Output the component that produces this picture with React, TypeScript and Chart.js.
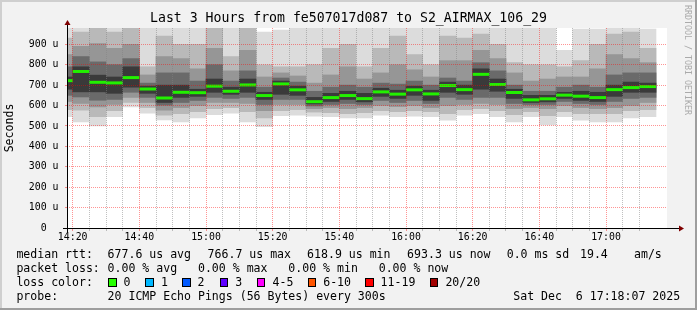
import React, { useEffect, useRef } from 'react';
import { Chart, registerables } from 'chart.js';

Chart.register(...registerables);

// ---- data (bin start times, 5-minute bins, values in microseconds) ----
const times = [
  '14:15', '14:20', '14:25', '14:30', '14:35', '14:40', '14:45', '14:50', '14:55',
  '15:00', '15:05', '15:10', '15:15', '15:20', '15:25', '15:30', '15:35', '15:40',
  '15:45', '15:50', '15:55', '16:00', '16:05', '16:10', '16:15', '16:20', '16:25',
  '16:30', '16:35', '16:40', '16:45', '16:50', '16:55', '17:00', '17:05', '17:10',
];

const medianRtt = [722, 767, 714, 711, 737, 681, 637, 665, 663, 695, 670, 701, 649, 706, 677, 619, 639, 649, 634, 667, 656, 677, 657, 698, 678, 753, 703, 664, 628, 633, 651, 646, 639, 678, 688, 693];

const pingMin = [545, 520, 500, 545, 593, 563, 530, 520, 540, 555, 563, 520, 497, 550, 553, 548, 545, 540, 540, 553, 545, 548, 545, 528, 553, 560, 545, 520, 545, 505, 545, 528, 520, 520, 540, 545];
const band2Lo = [580, 577, 545, 575, 615, 590, 553, 560, 570, 585, 590, 570, 540, 575, 580, 568, 565, 560, 565, 575, 570, 575, 570, 560, 580, 585, 575, 555, 570, 550, 570, 560, 560, 560, 575, 580];
const band3Lo = [620, 611, 593, 605, 640, 615, 577, 590, 600, 615, 615, 610, 575, 605, 605, 585, 590, 585, 590, 600, 595, 600, 590, 600, 605, 610, 605, 585, 590, 585, 600, 590, 585, 590, 600, 615];
const band4Lo = [650, 642, 626, 630, 665, 640, 602, 615, 625, 640, 635, 640, 605, 630, 630, 598, 605, 610, 605, 625, 615, 625, 610, 640, 630, 640, 640, 610, 605, 605, 620, 610, 605, 620, 635, 640];
const band5Lo = [680, 667, 667, 660, 690, 660, 615, 640, 645, 665, 655, 665, 630, 655, 650, 608, 620, 630, 618, 645, 635, 650, 625, 665, 655, 680, 670, 635, 615, 618, 635, 625, 620, 645, 665, 665];
const band5Hi = [740, 790, 749, 740, 790, 695, 700, 700, 680, 730, 690, 730, 665, 720, 695, 640, 660, 670, 660, 685, 675, 695, 675, 715, 700, 780, 730, 680, 650, 650, 665, 670, 665, 700, 715, 710];
const band4Hi = [790, 840, 814, 800, 830, 710, 760, 760, 720, 800, 720, 770, 690, 735, 715, 670, 690, 700, 690, 710, 705, 720, 700, 735, 720, 810, 770, 700, 670, 670, 690, 700, 690, 750, 760, 760];
const band3Hi = [850, 890, 904, 880, 900, 750, 840, 830, 780, 880, 770, 870, 740, 760, 745, 710, 750, 790, 730, 760, 800, 775, 740, 820, 820, 870, 830, 760, 720, 730, 740, 740, 780, 850, 830, 810];
const band2Hi = [930, 960, 980, 960, 980, 790, 940, 900, 900, 980, 840, 980, 800, 790, 790, 800, 880, 900, 790, 880, 940, 850, 800, 940, 930, 950, 900, 810, 800, 800, 790, 820, 900, 950, 960, 880];
const pingMax = [980, 980, 980, 980, 980, 980, 980, 980, 980, 980, 980, 980, 960, 970, 980, 980, 980, 980, 980, 980, 980, 980, 980, 980, 980, 980, 980, 980, 980, 980, 870, 975, 975, 980, 980, 975];

const yTickLabels = ['0', '100 u', '200 u', '300 u', '400 u', '500 u', '600 u', '700 u', '800 u', '900 u'];

const titleText = 'Last 3 Hours from fe507017d087 to S2_AIRMAX_106_29';
const rttStats = ['677.6 us avg', '766.7 us max', '618.9 us min', '693.3 us now', '0.0 ms sd', '19.4', 'am/s'];
const lossStats = '0.00 % avg   0.00 % max   0.00 % min   0.00 % now';
const lossLabels = ['0', '1', '2', '3', '4-5', '6-10', '11-19', '20/20'];
const lossColors = ['#26ff00', '#00b8ff', '#0059ff', '#5e00ff', '#ff00ff', '#ff5500', '#ff0000', '#a10000'];
const probeText = '20 ICMP Echo Pings (56 Bytes) every 300s';
const dateText = 'Sat Dec  6 17:18:07 2025';

// ---- helpers ----
const ORIGIN = 14 * 60 + 20;
const toMin = (t: string) => {
  const [h, m] = t.split(':').map(Number);
  return h * 60 + m - ORIGIN;
};
const binCenter = (t: string) => toMin(t) + 2.5;

const MONO = "'DejaVu Sans Mono', monospace";
const MAJOR = 'rgba(255,0,0,0.42)';
const MINOR = 'rgba(130,130,130,0.5)';

const bands = [
  { lo: pingMin, hi: pingMax, color: '#dcdcdc' },
  { lo: band2Lo, hi: band2Hi, color: '#b9b9b9' },
  { lo: band3Lo, hi: band3Hi, color: '#969696' },
  { lo: band4Lo, hi: band4Hi, color: '#6a6a6a' },
  { lo: band5Lo, hi: band5Hi, color: '#3a3a3a' },
];

const framePlugin = {
  id: 'rrdFrame',
  beforeDraw(chart: any) {
    const { ctx, width, height, chartArea: a } = chart;
    ctx.save();
    ctx.fillStyle = '#f2f2f2';
    ctx.fillRect(0, 0, width, height);
    ctx.fillStyle = '#cfcfcf';
    ctx.fillRect(0, 0, width, 2);
    ctx.fillRect(0, 0, 2, height);
    ctx.fillStyle = '#9e9e9e';
    ctx.fillRect(0, height - 2, width, 2);
    ctx.fillRect(width - 2, 0, 2, height);
    ctx.fillStyle = '#ffffff';
    ctx.fillRect(a.left, a.top, a.right - a.left, a.bottom - a.top);
    ctx.restore();
  },
  afterDraw(chart: any) {
    const { ctx, chartArea: a } = chart;
    ctx.save();
    ctx.fillStyle = '#000';
    ctx.font = `13.2px ${MONO}`;
    ctx.textAlign = 'center';
    ctx.textBaseline = 'middle';
    ctx.fillText(titleText, chart.width / 2, 19);
    ctx.fillStyle = '#000';
    ctx.fillRect(a.left, a.top - 4, 1, a.bottom - a.top + 8);
    ctx.fillRect(a.left - 4, a.bottom, a.right - a.left + 16, 1);
    ctx.fillStyle = '#7f0000';
    ctx.beginPath();
    ctx.moveTo(a.left - 2.5, a.top - 3);
    ctx.lineTo(a.left + 3.5, a.top - 3);
    ctx.lineTo(a.left + 0.5, a.top - 8);
    ctx.closePath();
    ctx.fill();
    ctx.beginPath();
    ctx.moveTo(a.right + 12, a.bottom - 2.5);
    ctx.lineTo(a.right + 12, a.bottom + 3.5);
    ctx.lineTo(a.right + 17, a.bottom + 0.5);
    ctx.closePath();
    ctx.fill();
    ctx.restore();
  },
};

export default function App() {
  const ref = useRef<HTMLCanvasElement>(null);

  useEffect(() => {
    document.body.style.margin = '0';
    const bandSets = bands.map((b, i) => ({
      type: 'bar' as const,
      data: times.map((t, k) => ({ x: binCenter(t), y: [b.lo[k], b.hi[k]] })),
      backgroundColor: b.color,
      borderWidth: 0,
      grouped: false,
      barPercentage: 1,
      categoryPercentage: 1,
      order: 10 - i,
      clip: 0,
    }));
    const medianSet = {
      type: 'line' as const,
      data: times.map((t, k) => ({ x: binCenter(t), y: medianRtt[k] })),
      showLine: false,
      pointStyle: 'line' as const,
      pointRadius: (c: any) => {
        const xs = c.chart.scales.x;
        return (xs.getPixelForValue(5) - xs.getPixelForValue(0)) / 2;
      },
      pointHoverRadius: 0,
      pointBorderWidth: 3,
      pointBorderColor: '#22f000',
      pointBackgroundColor: '#22f000',
      order: 0,
      clip: 0,
    };

    const xTickValues = times.slice(1).map(toMin);

    const chart = new Chart(ref.current!, {
      type: 'bar',
      data: { datasets: [...bandSets, medianSet] as any },
      plugins: [framePlugin],
      options: {
        animation: false,
        responsive: false,
        devicePixelRatio: 1,
        layout: { padding: { top: 28, right: 30, left: 0, bottom: 0 } },
        plugins: { legend: { display: false }, tooltip: { enabled: false }, title: { display: false } },
        scales: {
          x: {
            type: 'linear',
            offset: false,
            min: -1.7,
            max: 178.3,
            afterFit: (s: any) => { s.height = 82; },
            afterBuildTicks: (s: any) => { s.ticks = xTickValues.map((v) => ({ value: v })); },
            border: { display: false, dash: [1, 1] },
            grid: {
              z: 1,
              offset: false,
              color: (c: any) => (c.tick && Math.round(c.tick.value) % 20 === 0 ? MAJOR : MINOR),
              tickColor: (c: any) => (c.tick && Math.round(c.tick.value) % 20 === 0 ? MAJOR : MINOR),
              tickLength: 3,
              tickBorderDash: [],
            },
            ticks: {
              autoSkip: false,
              maxRotation: 0,
              minRotation: 0,
              padding: 0,
              color: '#000',
              font: { family: MONO, size: 9.9, lineHeight: 1.2 },
              callback: (v: any) => {
                const n = Math.round(Number(v));
                if (n % 20 !== 0) return '';
                const tot = ORIGIN + n;
                const hh = String(Math.floor(tot / 60)).padStart(2, '0');
                const mm = String(tot % 60).padStart(2, '0');
                return `${hh}:${mm}`;
              },
            },
          },
          y: {
            type: 'linear',
            min: 0,
            max: 980,
            afterFit: (s: any) => { s.width = 67; },
            border: { display: false, dash: [1, 1] },
            grid: {
              z: 1,
              color: (c: any) => (c.tick && Math.round(c.tick.value) % 100 === 0 ? MAJOR : MINOR),
              tickColor: (c: any) => (c.tick && Math.round(c.tick.value) % 100 === 0 ? MAJOR : 'rgba(0,0,0,0)'),
              tickLength: 2,
              tickBorderDash: [],
            },
            title: {
              display: true,
              text: 'Seconds',
              color: '#000',
              font: { family: MONO, size: 11.55, lineHeight: 1.2 },
              padding: { top: 3.5, bottom: 0 },
            },
            ticks: {
              stepSize: 50,
              includeBounds: false,
              padding: 6.5,
              color: '#000',
              font: { family: MONO, size: 9.9, lineHeight: 1.2 },
              callback: (v: any) => {
                const n = Math.round(Number(v));
                if (n % 100 !== 0) return '';
                const lbl = yTickLabels[n / 100];
                return n === 0 ? `${lbl}  ` : lbl;
              },
            },
          },
        },
      } as any,
    });
    return () => chart.destroy();
  }, []);

  const txt: React.CSSProperties = {
    position: 'absolute',
    fontFamily: MONO,
    fontSize: '11.55px',
    lineHeight: '14px',
    whiteSpace: 'pre',
    color: '#000',
  };
  const row = (cy: number) => cy - 7;
  const rttX = [107.6, 207.6, 307.1, 407.1, 506.7, 580, 634];
  const boxX = [108, 145.3, 182, 219.6, 256.9, 307.6, 365, 429.8];

  return (
    <div style={{ position: 'absolute', left: 0, top: 0, width: 697, height: 310, overflow: 'hidden' }}>
      <canvas ref={ref} width={697} height={310} style={{ display: 'block', width: 697, height: 310 }} />
      <div style={{ ...txt, left: 16.4, top: row(254.3) }}>median rtt:</div>
      {rttStats.map((s, i) => (
        <div key={'r' + i} style={{ ...txt, left: rttX[i], top: row(254.3) }}>{s}</div>
      ))}
      <div style={{ ...txt, left: 16.4, top: row(268.3) }}>packet loss:</div>
      <div style={{ ...txt, left: 107.6, top: row(268.3) }}>{lossStats}</div>
      <div style={{ ...txt, left: 16.4, top: row(282.3) }}>loss color:</div>
      {lossLabels.map((l, i) => (
        <React.Fragment key={'l' + i}>
          <div
            style={{
              position: 'absolute',
              left: boxX[i],
              top: 278,
              width: 6.5,
              height: 6.5,
              background: lossColors[i],
              border: '1px solid #000',
            }}
          />
          <div style={{ ...txt, left: boxX[i] + 15.6, top: row(282.3) }}>{l}</div>
        </React.Fragment>
      ))}
      <div style={{ ...txt, left: 16.4, top: row(296.3) }}>probe:</div>
      <div style={{ ...txt, left: 107.6, top: row(296.3) }}>{probeText}</div>
      <div style={{ ...txt, left: 513.3, top: row(296.3) }}>{dateText}</div>
      <div
        style={{
          position: 'absolute',
          left: 682.5,
          top: 5,
          writingMode: 'vertical-rl',
          fontFamily: MONO,
          fontSize: '8.3px',
          lineHeight: '10px',
          color: '#aaaaaa',
          whiteSpace: 'pre',
        }}
      >
        RRDTOOL / TOBI OETIKER
      </div>
    </div>
  );
}
